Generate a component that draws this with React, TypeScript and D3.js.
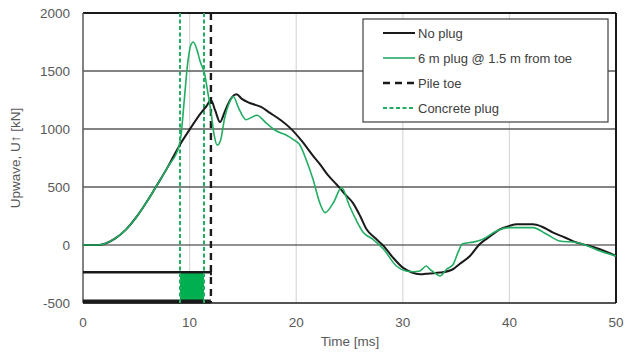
import React from "react";
import * as d3 from "d3";

// ── Data ──────────────────────────────────────────────────────
const T_NOPLUG = [0, 1.5, 2, 3, 4, 5, 6, 7, 8, 9, 10, 11, 11.6, 12, 12.4, 12.85, 13.3, 13.8, 14.4, 14.9, 15.5, 16.0, 16.7, 17.5, 18.5, 19.4, 20.5, 21.6, 22.2, 23.0, 23.6, 24.1, 24.5, 25.3, 26.0, 26.6, 27.4, 28.2, 29.0, 30.0, 30.8, 31.6, 32.5, 33.5, 34.7, 35.3, 36.3, 37.2, 38.2, 39.1, 40.0, 40.7, 42.2, 43.0, 44.1, 45.2, 46.3, 47.4, 48.5, 50];
const U_NOPLUG = [0, 0, 10, 55, 130, 240, 375, 525, 680, 850, 995, 1130, 1200, 1250, 1160, 1060, 1150, 1250, 1300, 1260, 1230, 1213, 1190, 1141, 1080, 1012, 900, 767, 700, 600, 540, 490, 445, 365, 250, 135, 60, -9, -100, -195, -235, -253, -245, -238, -209, -166, -95, 6, 75, 135, 165, 178, 178, 160, 107, 65, 21, -5, -37, -95];

const T_PLUG = [0, 1.5, 2, 3, 4, 5, 6, 7, 8, 9, 9.2, 9.5, 9.8, 10.1, 10.35, 10.7, 11.0, 11.4, 11.7, 12.0, 12.3, 12.6, 12.9, 13.3, 13.7, 14.1, 14.6, 15.3, 15.8, 16.3, 17.2, 18.2, 19.0, 19.7, 20.3, 21.0, 21.6, 22.2, 22.7, 23.5, 24.25, 25.0, 25.6, 26.3, 27.2, 28.2, 29.4, 30.3, 31.0, 31.6, 32.2, 32.6, 33.0, 33.5, 34.1, 34.7, 35.2, 35.6, 36.6, 37.5, 38.8, 40.0, 41.0, 42.2, 43.5, 44.7, 46.3, 47.4, 48.5, 50];
const U_PLUG = [0, 0, 10, 55, 130, 240, 375, 525, 680, 850, 950, 1250, 1550, 1720, 1750, 1680, 1580, 1480, 1320, 1150, 950, 860, 900, 1100, 1220, 1280, 1180, 1080, 1100, 1118, 1050, 980, 950, 911, 868, 720, 560, 366, 279, 366, 495, 336, 220, 107, 49, -37, -181, -224, -230, -224, -181, -215, -240, -267, -209, -170, -60, 10, 25, 50, 121, 150, 150, 150, 92, 35, 21, -10, -52, -95];

const PILE_TOE = 12;           // ms
const PLUG_EDGES = [9.1, 11.35]; // ms
const PILE_SHAFT = [-235, -500];
const PLUG_BLOCK = [-240, -492];

const Y_TICKS = [-500, 0, 500, 1000, 1500, 2000];
const X_TICKS = [0, 10, 20, 30, 40, 50];

const LEGEND = [
  { label: "No plug", color: "#1a1a1a", dash: "", width: 2 },
  { label: "6 m plug @ 1.5 m from toe", color: "#22ad62", dash: "", width: 1.6 },
  { label: "Pile toe", color: "#1a1a1a", dash: "7,5", width: 2.4 },
  { label: "Concrete plug", color: "#22ad62", dash: "4,2.5", width: 2 },
];

// ── Geometry ──────────────────────────────────────────────────
const W = 632;
const H = 352;
const M = { left: 83, right: 616, top: 13, bottom: 303 };
const BLACK = "#1a1a1a";
const GREEN = "#22ad62";

export default function App() {
  const x = d3.scaleLinear().domain([0, 50]).range([M.left, M.right]);
  const y = d3.scaleLinear().domain([-500, 2000]).range([M.bottom, M.top]);

  const line = d3
    .line<[number, number]>()
    .x((d) => x(d[0]))
    .y((d) => y(d[1]))
    .curve(d3.curveMonotoneX);

  const noPlug = line(T_NOPLUG.map((t, i) => [t, U_NOPLUG[i]] as [number, number])) ?? "";
  const plug = line(T_PLUG.map((t, i) => [t, U_PLUG[i]] as [number, number])) ?? "";

  return (
    <div style={{ position: "fixed", left: 0, top: 0, width: W, height: H, background: "#fff" }}>
      <svg width={W} height={H} style={{ fontFamily: "'Liberation Sans', Arial, sans-serif" }}>
        {/* vertical gridlines */}
        {X_TICKS.slice(1, -1).map((t) => (
          <line key={t} x1={x(t)} x2={x(t)} y1={M.top} y2={M.bottom} stroke="#d9d9d9" strokeWidth={1.2} />
        ))}
        {/* horizontal gridlines */}
        {Y_TICKS.slice(1, -1).map((v) => (
          <line key={v} x1={M.left} x2={M.right} y1={y(v)} y2={y(v)}
            stroke={v === 0 ? "#262626" : "#5a5a5a"} strokeWidth={v === 0 ? 1.1 : 1.5} />
        ))}

        {/* frame */}
        <line x1={M.left} x2={M.right} y1={M.top} y2={M.top} stroke={BLACK} strokeWidth={2.2} />
        <line x1={M.right} x2={M.right} y1={M.top} y2={M.bottom} stroke={BLACK} strokeWidth={2} />
        <line x1={M.left} x2={M.left} y1={M.top} y2={M.bottom} stroke="#595959" strokeWidth={1.5} />
        <line x1={M.left} x2={M.right} y1={M.bottom} y2={M.bottom} stroke={BLACK} strokeWidth={1.5} />

        {/* pile schematic */}
        <rect x={x(PLUG_EDGES[0])} y={y(PLUG_BLOCK[0])} width={x(PLUG_EDGES[1]) - x(PLUG_EDGES[0])}
          height={y(PLUG_BLOCK[1]) - y(PLUG_BLOCK[0])} fill="#00b050" />
        <line x1={M.left} x2={x(PILE_TOE)} y1={y(PILE_SHAFT[0])} y2={y(PILE_SHAFT[0])} stroke={BLACK} strokeWidth={2.5} />
        <line x1={x(PILE_TOE)} x2={x(PILE_TOE)} y1={y(PILE_SHAFT[0]) - 3} y2={y(PILE_SHAFT[0]) + 3} stroke={BLACK} strokeWidth={2} />
        <line x1={M.left} x2={x(PILE_TOE)} y1={y(PILE_SHAFT[1]) - 1.5} y2={y(PILE_SHAFT[1]) - 1.5} stroke={BLACK} strokeWidth={4} />

        {/* vertical markers */}
        {PLUG_EDGES.map((t) => (
          <line key={t} x1={x(t)} x2={x(t)} y1={M.top} y2={M.bottom} stroke={GREEN} strokeWidth={2} strokeDasharray="4,2.5" />
        ))}
        <line x1={x(PILE_TOE)} x2={x(PILE_TOE)} y1={M.top} y2={M.bottom} stroke={BLACK} strokeWidth={2.4} strokeDasharray="7,5" />

        {/* series */}
        <path d={noPlug} fill="none" stroke={BLACK} strokeWidth={2} />
        <path d={plug} fill="none" stroke={GREEN} strokeWidth={1.6} />

        {/* tick labels */}
        {Y_TICKS.map((v) => (
          <text key={v} x={70} y={y(v) + 5} textAnchor="end" fontSize={13.5} fill="#595959">{v}</text>
        ))}
        {X_TICKS.map((t) => (
          <text key={t} x={x(t)} y={327} textAnchor="middle" fontSize={13.5} fill="#595959">{t}</text>
        ))}

        {/* axis titles */}
        <text x={350} y={346} textAnchor="middle" fontSize={13.5} fill="#595959">Time [ms]</text>
        <text transform={`translate(20,${(M.top + M.bottom) / 2}) rotate(-90)`} textAnchor="middle" fontSize={13.5} fill="#595959">
          Upwave, U↑ [kN]
        </text>

        {/* legend */}
        <rect x={363} y={19} width={245} height={103} fill="#fff" stroke="#404040" strokeWidth={1.2} />
        {LEGEND.map((d, i) => {
          const ly = 33 + i * 25;
          return (
            <g key={d.label}>
              <line x1={383} x2={415} y1={ly} y2={ly} stroke={d.color} strokeWidth={d.width} strokeDasharray={d.dash || undefined} />
              <text x={418} y={ly + 4.5} fontSize={13} fill="#404040">{d.label}</text>
            </g>
          );
        })}
      </svg>
    </div>
  );
}
